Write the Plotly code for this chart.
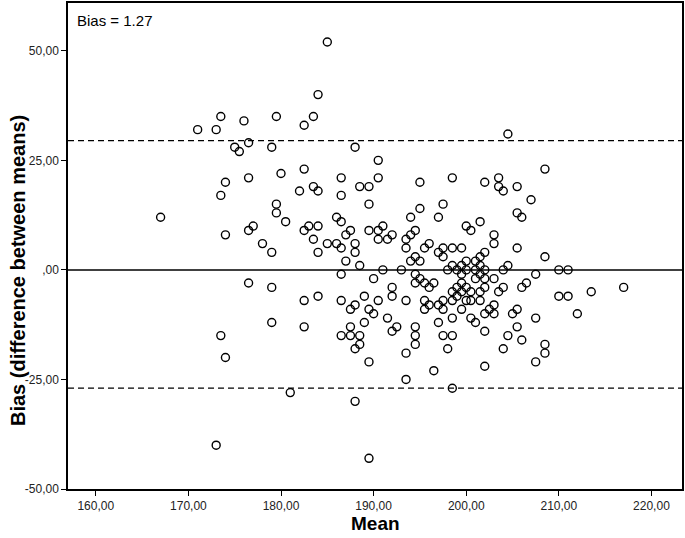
import plotly.graph_objects as go

# Bland-Altman data: mean of the two methods vs. difference
mean_vals = [
    167.0, 171.0, 173.0, 173.5, 176.0, 179.5, 176.5, 175.0, 175.5, 179.0,
    180.0, 176.5, 174.0, 173.5, 179.5, 179.5, 180.5, 177.0, 176.5, 174.0,
    178.0, 179.0,
    185.0, 184.0, 183.5, 182.5, 188.0, 190.5, 182.5, 186.5, 190.5, 198.5,
    195.0, 182.0, 183.5, 184.0, 188.5, 189.5, 186.5, 189.5, 197.5, 195.0,
    186.0, 186.5, 194.0, 197.0, 201.5, 182.5, 183.0, 184.0, 187.5, 187.0,
    189.5, 190.5, 191.0, 190.5, 191.5, 192.0, 194.5, 194.0, 193.5, 200.0,
    200.5, 183.5, 184.0, 185.0, 186.0, 186.5, 188.0, 188.0, 187.0, 188.5,
    191.0, 193.0, 193.5, 195.5, 196.0, 197.0, 197.5, 197.5, 198.5, 199.5,
    194.0, 194.5, 195.0, 198.5, 199.5, 200.0, 201.0, 198.0, 201.5, 202.0,
    204.5, 208.5, 203.5, 203.5, 204.0, 202.0, 205.5, 207.0, 205.5, 206.0,
    203.0, 203.0, 205.5, 208.5,
    199.0, 199.5, 200.0, 201.5, 201.0, 202.0, 201.5, 201.0, 202.0, 203.0,
    204.0, 204.5, 207.5, 210.0, 211.0, 186.5, 190.0, 194.5, 195.0, 194.5,
    195.5, 196.5, 196.0, 192.0, 192.0, 198.5, 199.0, 199.5, 199.0, 199.5,
    200.0, 200.5, 201.5, 202.0, 204.0, 203.5, 206.0, 206.5, 200.5, 201.5,
    203.0, 210.0, 211.0, 217.0, 213.5, 202.5, 202.0, 203.0, 200.5, 201.0,
    205.0, 205.5, 202.0, 205.5, 207.5, 204.5, 206.0, 204.0, 208.5, 208.5,
    207.5, 202.0, 212.0, 189.0, 186.5, 188.0, 190.5, 193.5, 195.5, 197.0,
    197.5, 198.5, 200.0, 182.5, 184.0, 187.5, 189.5, 190.0, 195.5, 197.5,
    199.5, 198.5, 197.0, 191.5, 189.0, 182.5, 187.5, 186.5, 187.5, 188.5,
    188.5, 188.0, 192.5, 192.0, 194.5, 194.5, 194.5, 197.5, 198.5, 198.0,
    193.5, 189.5, 193.5, 196.5, 198.5, 181.0, 188.0, 189.5, 176.5, 179.0,
    179.0, 173.5, 174.0, 173.0, 196.0,
]
diff_vals = [
    12, 32, 32, 35, 34, 35, 29, 28, 27, 28,
    22, 21, 20, 17, 15, 13, 11, 10, 9, 8,
    6, 4,
    52, 40, 35, 33, 28, 25, 23, 21, 21, 21,
    20, 18, 19, 18, 19, 19, 17, 15, 15, 14,
    12, 11, 12, 12, 11, 9, 10, 10, 9, 8,
    9, 9, 10, 7, 7, 8, 9, 8, 7, 10,
    9, 7, 4, 6, 6, 5, 6, 4, 2, 1,
    0, 0, 5, 5, 6, 4, 5, 3, 5, 5,
    2, 3, 2, 1, 1, 2, 2, 0, 3, 4,
    31, 23, 21, 19, 18, 20, 19, 16, 13, 12,
    8, 6, 5, 3,
    0, -1, 0, 1, 0, 0, -1, -2, -2, -2,
    0, 1, -1, 0, 0, -1, -2, -1, -2, -3,
    -3, -3, -4, -4, -6, -5, -4, -3, -6, -5,
    -4, -5, -5, -4, -4, -5, -4, -3, -7, -7,
    -8, -6, -6, -4, -5, -9, -10, -10, -11, -12,
    -10, -9, -14, -13, -11, -15, -16, -18, -17, -19,
    -21, -22, -10, -6, -7, -8, -7, -7, -7, -8,
    -7, -7, -7, -7, -6, -9, -9, -10, -9, -9,
    -9, -11, -12, -11, -12, -13, -13, -15, -15, -15,
    -17, -18, -13, -14, -13, -15, -17, -15, -15, -18,
    -19, -21, -25, -23, -27, -28, -30, -43, -3, -4,
    -12, -15, -20, -40, -8,
]

bias_label = "Bias = 1.27"
upper_loa = 29.5
lower_loa = -27.0

x_ticks = [160, 170, 180, 190, 200, 210, 220]
x_ticktext = ["160,00", "170,00", "180,00", "190,00", "200,00", "210,00", "220,00"]
y_ticks = [-50, -25, 0, 25, 50]
y_ticktext = ["-50,00", "-25,00", ",00", "25,00", "50,00"]

FONT = "Arial, Liberation Sans, sans-serif"

fig = go.Figure()
fig.add_trace(go.Scatter(
    x=mean_vals,
    y=diff_vals,
    mode="markers",
    marker=dict(symbol="circle-open", size=8, color="black", line=dict(width=1.4, color="black")),
    showlegend=False,
))

# zero line and limits of agreement
fig.add_shape(type="line", xref="paper", x0=0, x1=1, y0=0, y1=0,
              line=dict(color="black", width=1.5))
for lim in [upper_loa, lower_loa]:
    fig.add_shape(type="line", xref="paper", x0=0, x1=1, y0=lim, y1=lim,
                  line=dict(color="black", width=1.3, dash="6px,4px"))

fig.update_layout(
    width=685,
    height=538,
    plot_bgcolor="white",
    paper_bgcolor="white",
    font=dict(family=FONT, color="#222222"),
    margin=dict(l=68, r=2, t=1, b=49),
    annotations=[
        dict(text=bias_label, xref="paper", yref="paper", x=0.011, y=0.965,
             xanchor="left", yanchor="middle", showarrow=False,
             font=dict(size=15, color="black")),
        dict(text="<b>Mean</b>", xref="paper", yref="paper", x=0.5, y=-0.072,
             xanchor="center", yanchor="middle", showarrow=False,
             font=dict(size=19, color="black")),
        dict(text="<b>Bias (difference between means)</b>", xref="paper", yref="paper",
             x=-0.081, y=0.449, xanchor="center", yanchor="middle", textangle=-90,
             showarrow=False, font=dict(size=20, color="black")),
    ],
)

fig.update_xaxes(
    range=[157.0, 223.3],
    tickvals=x_ticks,
    ticktext=x_ticktext,
    ticks="outside",
    ticklen=5,
    tickcolor="black",
    tickfont=dict(size=12),
    showgrid=False,
    zeroline=False,
    showline=True,
    mirror=True,
    linecolor="black",
    linewidth=1.5,
)
fig.update_yaxes(
    range=[-50, 60.9],
    tickvals=y_ticks,
    ticktext=y_ticktext,
    ticks="outside",
    ticklen=5,
    tickcolor="black",
    tickfont=dict(size=12),
    showgrid=False,
    zeroline=False,
    showline=True,
    mirror=True,
    linecolor="black",
    linewidth=1.5,
)

# page has a default body margin; drop it so the figure fills the window
fig.write_html("out.html", config={"displayModeBar": False},
               post_script="document.body.style.margin='0';")
